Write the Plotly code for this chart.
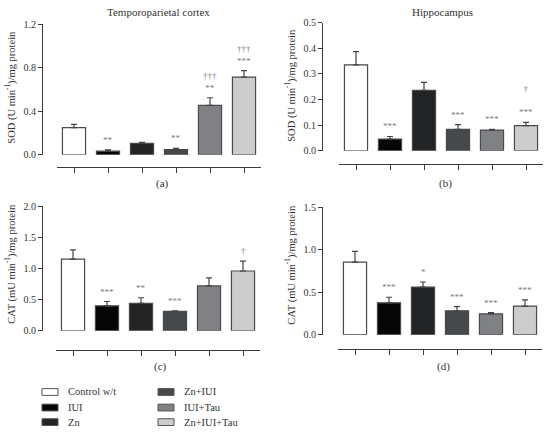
import plotly.graph_objects as go

groups = ["Control w/t", "IUI", "Zn", "Zn+IUI", "IUI+Tau", "Zn+IUI+Tau"]
colors = ["#ffffff", "#060606", "#232425", "#46494c", "#7f8184", "#cbcccd"]

sod_tp = [0.25, 0.033, 0.105, 0.047, 0.455, 0.715]
sod_tp_err = [0.03, 0.012, 0.01, 0.012, 0.07, 0.06]
sod_tp_sig = ["", "**", "", "**", "†††<br>**", "†††<br>***"]

sod_hip = [0.335, 0.046, 0.236, 0.084, 0.081, 0.098]
sod_hip_err = [0.052, 0.010, 0.031, 0.018, 0.003, 0.013]
sod_hip_sig = ["", "***", "", "***", "***", "†<br><br>***"]

cat_tp = [1.15, 0.40, 0.44, 0.31, 0.72, 0.96]
cat_tp_err = [0.15, 0.07, 0.09, 0.01, 0.13, 0.16]
cat_tp_sig = ["", "***", "**", "***", "", "†"]

cat_hip = [0.855, 0.374, 0.56, 0.28, 0.244, 0.336]
cat_hip_err = [0.125, 0.066, 0.06, 0.05, 0.016, 0.074]
cat_hip_sig = ["", "***", "*", "***", "***", "***"]

titles = ["Temporoparietal cortex", "Hippocampus", "", ""]
panel_labels = ["(a)", "(b)", "(c)", "(d)"]
ylabels = ["SOD (U min<sup>-1</sup>)/mg protein", "SOD (U min<sup>-1</sup>)/mg protein",
           "CAT (mU min<sup>-1</sup>)/mg protein", "CAT (mU min<sup>-1</sup>)/mg protein"]
yranges = [1.2, 0.5, 2.0, 1.5]
ydticks = [0.4, 0.1, 0.5, 0.5]

W, H = 544, 433
def px(x): return x / W
def py(y): return 1 - y / H

geo = [
    dict(xd=(57, 261), yx=42, yd=(19, 153), xa=166, lab=(162, 183), yl=(10, 84), tt=(158, 6)),
    dict(xd=(339, 543), yx=322, yd=(17, 149), xa=163, lab=(445, 183), yl=(290, 82), tt=(442, 6)),
    dict(xd=(56, 260), yx=42, yd=(206, 334), xa=354, lab=(160, 371), yl=(10, 265), tt=None),
    dict(xd=(338, 542), yx=322, yd=(207, 338), xa=353, lab=(443, 371), yl=(290, 266), tt=None),
]

data = [(sod_tp, sod_tp_err, sod_tp_sig), (sod_hip, sod_hip_err, sod_hip_sig),
        (cat_tp, cat_tp_err, cat_tp_sig), (cat_hip, cat_hip_err, cat_hip_sig)]

serif = "Liberation Serif"
axcol = "#3a3a3a"
fig = go.Figure()
annotations = []
shapes = []
xs = list(range(len(groups)))

def label(x, y, text, size, angle=0, xanchor="center", color="#333333"):
    return dict(x=px(x), y=py(y), xref="paper", yref="paper", text=text,
                showarrow=False, textangle=angle, xanchor=xanchor, yanchor="middle",
                font=dict(family=serif, size=size, color=color))

for i, (vals, errs, sigs) in enumerate(data):
    n = "" if i == 0 else str(i + 1)
    g = geo[i]
    fig.add_trace(go.Bar(
        x=xs, y=vals, width=0.68,
        marker=dict(color=colors, line=dict(color="#4a4a4a", width=1.2)),
        error_y=dict(type="data", symmetric=False, array=errs, arrayminus=[0] * len(vals),
                     color="#444444", thickness=1.2, width=3),
        xaxis="x" + n, yaxis="y" + n, showlegend=False, hoverinfo="skip",
    ))
    tickvals = []
    k = 0
    while k * ydticks[i] <= yranges[i] + 1e-9:
        tickvals.append(round(k * ydticks[i], 3))
        k += 1
    fig.layout["xaxis" + n] = dict(
        domain=[px(g["xd"][0]), px(g["xd"][1])], anchor="free", position=py(g["xa"]),
        range=[-0.5, len(groups) - 0.5], tickvals=xs, showticklabels=False,
        ticks="outside", ticklen=5, tickcolor=axcol, showline=True, linecolor=axcol,
        linewidth=1, showgrid=False, zeroline=False, fixedrange=True,
    )
    fig.layout["yaxis" + n] = dict(
        domain=[py(g["yd"][1]), py(g["yd"][0])], anchor="free", position=px(g["yx"]),
        range=[0, yranges[i]], tickvals=tickvals, tickformat=".1f",
        ticks="outside", ticklen=4, tickcolor=axcol, showline=True, linecolor=axcol,
        linewidth=1, showgrid=False, zeroline=False,
        tickfont=dict(family=serif, size=10, color="#333333"), fixedrange=True,
    )
    for j, s in enumerate(sigs):
        if s:
            annotations.append(dict(
                x=xs[j], y=vals[j] + errs[j], xref="x" + n, yref="y" + n,
                text=s, showarrow=False, xanchor="center", yanchor="bottom", yshift=3,
                font=dict(family=serif, size=9, color="#7a7a7a"),
            ))
    annotations.append(label(g["lab"][0], g["lab"][1], panel_labels[i], 11))
    annotations.append(label(g["yl"][0], g["yl"][1], ylabels[i], 10.5, angle=-90))
    if g["tt"]:
        annotations.append(label(g["tt"][0], g["tt"][1], titles[i], 11))

leg_cols = [(42, 66), (158, 182)]
leg_rows = [397, 413, 428]
for j, name in enumerate(groups):
    c = j // 3
    r = j % 3
    x0, tx = leg_cols[c]
    yc = leg_rows[r]
    shapes.append(dict(type="rect", xref="paper", yref="paper",
                       x0=px(x0), x1=px(x0 + 16), y0=py(yc + 3.5), y1=py(yc - 3.5),
                       fillcolor=colors[j], line=dict(color="#555555", width=1)))
    annotations.append(label(tx, yc, name, 10.5, xanchor="left"))

fig.update_layout(
    width=W, height=H, margin=dict(l=0, r=0, t=0, b=0),
    paper_bgcolor="white", plot_bgcolor="white",
    barmode="overlay", annotations=annotations, shapes=shapes,
)
fig.write_html("out.html", config={"displayModeBar": False},
               post_script="document.body.style.margin='0';")
